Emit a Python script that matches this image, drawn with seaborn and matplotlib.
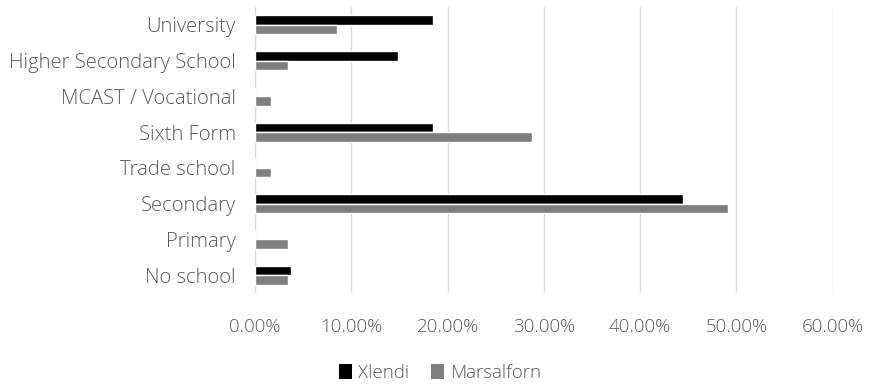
import matplotlib
matplotlib.use("Agg")
import matplotlib.pyplot as plt
import seaborn as sns
import pandas as pd
from matplotlib.ticker import FuncFormatter, MultipleLocator
from matplotlib.patches import Patch

categories = ["University", "Higher Secondary School", "MCAST / Vocational", "Sixth Form",
              "Trade school", "Secondary", "Primary", "No school"]
xlendi = [18.52, 14.81, 0.0, 18.52, 0.0, 44.44, 0.0, 3.70]
marsalforn = [8.47, 3.39, 1.69, 28.81, 1.69, 49.15, 3.39, 3.39]
series_names = ["Xlendi", "Marsalforn"]
colors = ["#000000", "#7f7f7f"]

df = pd.DataFrame({
    "category": categories * 2,
    "value": xlendi + marsalforn,
    "series": [series_names[0]] * len(categories) + [series_names[1]] * len(categories),
})

sns.set_theme(style="white")
plt.rcParams["font.family"] = ["Open Sans", "DejaVu Sans"]
plt.rcParams["font.weight"] = "light"
text_color = "#595959"

fig = plt.figure(figsize=(8.71, 3.86), dpi=100)
ax = fig.add_axes([0.293, 0.241, 0.663, 0.741])

sns.barplot(data=df, y="category", x="value", hue="series", order=categories,
            hue_order=series_names, palette=colors, orient="h", width=0.53,
            saturation=1, ax=ax, legend=False)

ax.set_xlim(0, 60)
ax.xaxis.set_major_locator(MultipleLocator(10))
ax.xaxis.set_major_formatter(FuncFormatter(lambda v, p: f"{v:.2f}%"))
ax.grid(axis="x", color="#d9d9d9", linewidth=1)
ax.set_axisbelow(True)
for s in ax.spines.values():
    s.set_visible(False)
ax.set_xlabel("")
ax.set_ylabel("")
ax.tick_params(axis="y", length=0, pad=14, labelsize=14.6, labelcolor=text_color)
ax.tick_params(axis="x", length=0, pad=18, labelsize=13.5, labelcolor=text_color)
ax.set_ylim(len(categories) - 0.5, -0.5)

handles = [Patch(facecolor=c, edgecolor="none") for c in colors]
fig.legend(handles, series_names, loc="center", bbox_to_anchor=(0.505, 0.034), ncol=2,
           frameon=False, fontsize=13.5, labelcolor=text_color, handlelength=0.7,
           handleheight=0.9, handletextpad=0.3, columnspacing=1.2)

fig.savefig("out.png", dpi=100)
